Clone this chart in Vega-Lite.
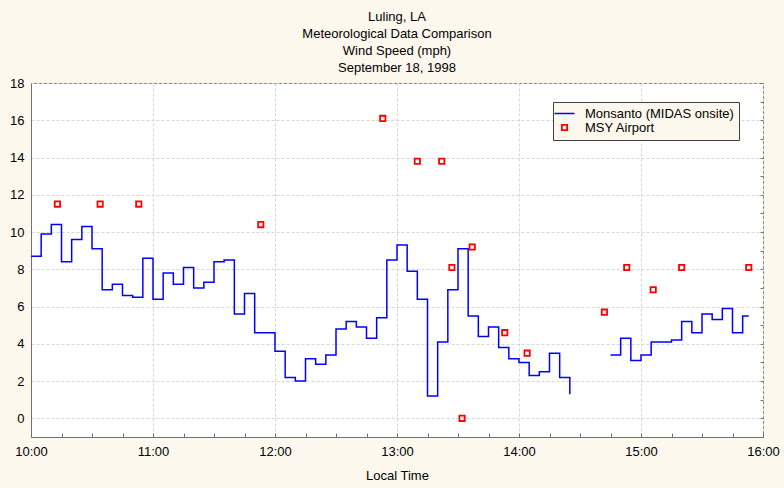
{
  "$schema": "https://vega.github.io/schema/vega-lite/v6.json",
  "autosize": {"type": "none"},
  "width": 732,
  "height": 354,
  "padding": {"left": 31, "top": 83, "right": 21, "bottom": 51},
  "background": "#FDF8EE",
  "config": {
    "font": "Liberation Sans",
    "view": {"stroke": "#707070", "strokeWidth": 1, "fill": "white"},
    "axis": {
      "labelFont": "Liberation Sans",
      "labelFontSize": 13,
      "labelColor": "#000000",
      "titleFont": "Liberation Sans",
      "titleFontSize": 13,
      "titleFontWeight": "normal",
      "titleColor": "#000000",
      "domainColor": "#707070",
      "tickColor": "#707070",
      "gridColor": "#D6D6D6",
      "gridDash": [3, 2],
      "gridWidth": 1
    }
  },
  "title": {
    "text": ["Luling, LA", "Meteorological Data Comparison", "Wind Speed (mph)", "September 18, 1998"],
    "font": "Liberation Sans",
    "fontSize": 13,
    "fontWeight": "normal",
    "color": "#000000",
    "lineHeight": 17,
    "anchor": "middle",
    "offset": 2
  },
  "datasets": {
    "midas": [
      {"time": "1998-09-18T10:00:00", "speed": 8.7, "seg": 1, "series": "Monsanto (MIDAS onsite)"},
      {"time": "1998-09-18T10:05:00", "speed": 9.9, "seg": 1, "series": "Monsanto (MIDAS onsite)"},
      {"time": "1998-09-18T10:10:00", "speed": 10.4, "seg": 1, "series": "Monsanto (MIDAS onsite)"},
      {"time": "1998-09-18T10:15:00", "speed": 8.4, "seg": 1, "series": "Monsanto (MIDAS onsite)"},
      {"time": "1998-09-18T10:20:00", "speed": 9.6, "seg": 1, "series": "Monsanto (MIDAS onsite)"},
      {"time": "1998-09-18T10:25:00", "speed": 10.3, "seg": 1, "series": "Monsanto (MIDAS onsite)"},
      {"time": "1998-09-18T10:30:00", "speed": 9.1, "seg": 1, "series": "Monsanto (MIDAS onsite)"},
      {"time": "1998-09-18T10:35:00", "speed": 6.9, "seg": 1, "series": "Monsanto (MIDAS onsite)"},
      {"time": "1998-09-18T10:40:00", "speed": 7.2, "seg": 1, "series": "Monsanto (MIDAS onsite)"},
      {"time": "1998-09-18T10:45:00", "speed": 6.6, "seg": 1, "series": "Monsanto (MIDAS onsite)"},
      {"time": "1998-09-18T10:50:00", "speed": 6.5, "seg": 1, "series": "Monsanto (MIDAS onsite)"},
      {"time": "1998-09-18T10:55:00", "speed": 8.6, "seg": 1, "series": "Monsanto (MIDAS onsite)"},
      {"time": "1998-09-18T11:00:00", "speed": 6.4, "seg": 1, "series": "Monsanto (MIDAS onsite)"},
      {"time": "1998-09-18T11:05:00", "speed": 7.8, "seg": 1, "series": "Monsanto (MIDAS onsite)"},
      {"time": "1998-09-18T11:10:00", "speed": 7.2, "seg": 1, "series": "Monsanto (MIDAS onsite)"},
      {"time": "1998-09-18T11:15:00", "speed": 8.1, "seg": 1, "series": "Monsanto (MIDAS onsite)"},
      {"time": "1998-09-18T11:20:00", "speed": 7.0, "seg": 1, "series": "Monsanto (MIDAS onsite)"},
      {"time": "1998-09-18T11:25:00", "speed": 7.3, "seg": 1, "series": "Monsanto (MIDAS onsite)"},
      {"time": "1998-09-18T11:30:00", "speed": 8.4, "seg": 1, "series": "Monsanto (MIDAS onsite)"},
      {"time": "1998-09-18T11:35:00", "speed": 8.5, "seg": 1, "series": "Monsanto (MIDAS onsite)"},
      {"time": "1998-09-18T11:40:00", "speed": 5.6, "seg": 1, "series": "Monsanto (MIDAS onsite)"},
      {"time": "1998-09-18T11:45:00", "speed": 6.7, "seg": 1, "series": "Monsanto (MIDAS onsite)"},
      {"time": "1998-09-18T11:50:00", "speed": 4.6, "seg": 1, "series": "Monsanto (MIDAS onsite)"},
      {"time": "1998-09-18T11:55:00", "speed": 4.6, "seg": 1, "series": "Monsanto (MIDAS onsite)"},
      {"time": "1998-09-18T12:00:00", "speed": 3.6, "seg": 1, "series": "Monsanto (MIDAS onsite)"},
      {"time": "1998-09-18T12:05:00", "speed": 2.2, "seg": 1, "series": "Monsanto (MIDAS onsite)"},
      {"time": "1998-09-18T12:10:00", "speed": 2.0, "seg": 1, "series": "Monsanto (MIDAS onsite)"},
      {"time": "1998-09-18T12:15:00", "speed": 3.2, "seg": 1, "series": "Monsanto (MIDAS onsite)"},
      {"time": "1998-09-18T12:20:00", "speed": 2.9, "seg": 1, "series": "Monsanto (MIDAS onsite)"},
      {"time": "1998-09-18T12:25:00", "speed": 3.4, "seg": 1, "series": "Monsanto (MIDAS onsite)"},
      {"time": "1998-09-18T12:30:00", "speed": 4.8, "seg": 1, "series": "Monsanto (MIDAS onsite)"},
      {"time": "1998-09-18T12:35:00", "speed": 5.2, "seg": 1, "series": "Monsanto (MIDAS onsite)"},
      {"time": "1998-09-18T12:40:00", "speed": 4.9, "seg": 1, "series": "Monsanto (MIDAS onsite)"},
      {"time": "1998-09-18T12:45:00", "speed": 4.3, "seg": 1, "series": "Monsanto (MIDAS onsite)"},
      {"time": "1998-09-18T12:50:00", "speed": 5.4, "seg": 1, "series": "Monsanto (MIDAS onsite)"},
      {"time": "1998-09-18T12:55:00", "speed": 8.5, "seg": 1, "series": "Monsanto (MIDAS onsite)"},
      {"time": "1998-09-18T13:00:00", "speed": 9.3, "seg": 1, "series": "Monsanto (MIDAS onsite)"},
      {"time": "1998-09-18T13:05:00", "speed": 7.9, "seg": 1, "series": "Monsanto (MIDAS onsite)"},
      {"time": "1998-09-18T13:10:00", "speed": 6.4, "seg": 1, "series": "Monsanto (MIDAS onsite)"},
      {"time": "1998-09-18T13:15:00", "speed": 1.2, "seg": 1, "series": "Monsanto (MIDAS onsite)"},
      {"time": "1998-09-18T13:20:00", "speed": 4.1, "seg": 1, "series": "Monsanto (MIDAS onsite)"},
      {"time": "1998-09-18T13:25:00", "speed": 6.9, "seg": 1, "series": "Monsanto (MIDAS onsite)"},
      {"time": "1998-09-18T13:30:00", "speed": 9.1, "seg": 1, "series": "Monsanto (MIDAS onsite)"},
      {"time": "1998-09-18T13:35:00", "speed": 5.5, "seg": 1, "series": "Monsanto (MIDAS onsite)"},
      {"time": "1998-09-18T13:40:00", "speed": 4.4, "seg": 1, "series": "Monsanto (MIDAS onsite)"},
      {"time": "1998-09-18T13:45:00", "speed": 4.9, "seg": 1, "series": "Monsanto (MIDAS onsite)"},
      {"time": "1998-09-18T13:50:00", "speed": 3.8, "seg": 1, "series": "Monsanto (MIDAS onsite)"},
      {"time": "1998-09-18T13:55:00", "speed": 3.2, "seg": 1, "series": "Monsanto (MIDAS onsite)"},
      {"time": "1998-09-18T14:00:00", "speed": 3.0, "seg": 1, "series": "Monsanto (MIDAS onsite)"},
      {"time": "1998-09-18T14:05:00", "speed": 2.3, "seg": 1, "series": "Monsanto (MIDAS onsite)"},
      {"time": "1998-09-18T14:10:00", "speed": 2.5, "seg": 1, "series": "Monsanto (MIDAS onsite)"},
      {"time": "1998-09-18T14:15:00", "speed": 3.5, "seg": 1, "series": "Monsanto (MIDAS onsite)"},
      {"time": "1998-09-18T14:20:00", "speed": 2.2, "seg": 1, "series": "Monsanto (MIDAS onsite)"},
      {"time": "1998-09-18T14:25:00", "speed": 1.3, "seg": 1, "series": "Monsanto (MIDAS onsite)"},
      {"time": "1998-09-18T14:45:00", "speed": 3.4, "seg": 2, "series": "Monsanto (MIDAS onsite)"},
      {"time": "1998-09-18T14:50:00", "speed": 4.3, "seg": 2, "series": "Monsanto (MIDAS onsite)"},
      {"time": "1998-09-18T14:55:00", "speed": 3.1, "seg": 2, "series": "Monsanto (MIDAS onsite)"},
      {"time": "1998-09-18T15:00:00", "speed": 3.4, "seg": 2, "series": "Monsanto (MIDAS onsite)"},
      {"time": "1998-09-18T15:05:00", "speed": 4.1, "seg": 2, "series": "Monsanto (MIDAS onsite)"},
      {"time": "1998-09-18T15:10:00", "speed": 4.1, "seg": 2, "series": "Monsanto (MIDAS onsite)"},
      {"time": "1998-09-18T15:15:00", "speed": 4.2, "seg": 2, "series": "Monsanto (MIDAS onsite)"},
      {"time": "1998-09-18T15:20:00", "speed": 5.2, "seg": 2, "series": "Monsanto (MIDAS onsite)"},
      {"time": "1998-09-18T15:25:00", "speed": 4.6, "seg": 2, "series": "Monsanto (MIDAS onsite)"},
      {"time": "1998-09-18T15:30:00", "speed": 5.6, "seg": 2, "series": "Monsanto (MIDAS onsite)"},
      {"time": "1998-09-18T15:35:00", "speed": 5.3, "seg": 2, "series": "Monsanto (MIDAS onsite)"},
      {"time": "1998-09-18T15:40:00", "speed": 5.9, "seg": 2, "series": "Monsanto (MIDAS onsite)"},
      {"time": "1998-09-18T15:45:00", "speed": 4.6, "seg": 2, "series": "Monsanto (MIDAS onsite)"},
      {"time": "1998-09-18T15:50:00", "speed": 5.5, "seg": 2, "series": "Monsanto (MIDAS onsite)"},
      {"time": "1998-09-18T15:53:00", "speed": 5.5, "seg": 2, "series": "Monsanto (MIDAS onsite)"}
    ],
    "msy": [
      {"time": "1998-09-18T10:13:00", "speed": 11.5, "series": "MSY Airport"},
      {"time": "1998-09-18T10:34:00", "speed": 11.5, "series": "MSY Airport"},
      {"time": "1998-09-18T10:53:00", "speed": 11.5, "series": "MSY Airport"},
      {"time": "1998-09-18T11:53:00", "speed": 10.4, "series": "MSY Airport"},
      {"time": "1998-09-18T12:53:00", "speed": 16.1, "series": "MSY Airport"},
      {"time": "1998-09-18T13:10:00", "speed": 13.8, "series": "MSY Airport"},
      {"time": "1998-09-18T13:22:00", "speed": 13.8, "series": "MSY Airport"},
      {"time": "1998-09-18T13:27:00", "speed": 8.1, "series": "MSY Airport"},
      {"time": "1998-09-18T13:32:00", "speed": 0.0, "series": "MSY Airport"},
      {"time": "1998-09-18T13:37:00", "speed": 9.2, "series": "MSY Airport"},
      {"time": "1998-09-18T13:53:00", "speed": 4.6, "series": "MSY Airport"},
      {"time": "1998-09-18T14:04:00", "speed": 3.5, "series": "MSY Airport"},
      {"time": "1998-09-18T14:42:00", "speed": 5.7, "series": "MSY Airport"},
      {"time": "1998-09-18T14:53:00", "speed": 8.1, "series": "MSY Airport"},
      {"time": "1998-09-18T15:06:00", "speed": 6.9, "series": "MSY Airport"},
      {"time": "1998-09-18T15:20:00", "speed": 8.1, "series": "MSY Airport"},
      {"time": "1998-09-18T15:53:00", "speed": 8.1, "series": "MSY Airport"}
    ]
  },
  "encoding": {
    "color": {
      "field": "series",
      "type": "nominal",
      "title": null,
      "scale": {"domain": ["Monsanto (MIDAS onsite)", "MSY Airport"], "range": ["#0000FF", "#FF0000"]},
      "legend": {
        "orient": "none",
        "legendX": 522,
        "legendY": 19,
        "fillColor": "#FDF8EE",
        "strokeColor": "#404040",
        "padding": 5,
        "labelFont": "Liberation Sans",
        "labelFontSize": 13,
        "labelColor": "#000000",
        "labelOffset": 14,
        "symbolSize": 400,
        "symbolStrokeWidth": 1.5,
        "rowPadding": -6,
        "encode": {
          "symbols": {
            "update": {
              "shape": {"signal": "datum.value === 'MSY Airport' ? 'square' : 'stroke'"},
              "size": {"signal": "datum.value === 'MSY Airport' ? 28 : 400"},
              "fill": {"value": "transparent"},
              "strokeWidth": {"signal": "datum.value === 'MSY Airport' ? 1.8 : 1.5"}
            }
          }
        }
      }
    }
  },
  "layer": [
    {
      "data": {"name": "midas"},
      "mark": {"type": "line", "interpolate": "step-after", "strokeWidth": 1.5},
      "encoding": {
        "x": {
          "field": "time",
          "type": "temporal",
          "title": "Local Time",
          "scale": {
            "domain": [
              {"year": 1998, "month": 9, "date": 18, "hours": 10, "minutes": 0},
              {"year": 1998, "month": 9, "date": 18, "hours": 16, "minutes": 0}
            ],
            "nice": false
          },
          "axis": {
            "orient": "bottom",
            "format": "%H:%M",
            "values": [
              {"year": 1998, "month": 9, "date": 18, "hours": 10},
              {"year": 1998, "month": 9, "date": 18, "hours": 11},
              {"year": 1998, "month": 9, "date": 18, "hours": 12},
              {"year": 1998, "month": 9, "date": 18, "hours": 13},
              {"year": 1998, "month": 9, "date": 18, "hours": 14},
              {"year": 1998, "month": 9, "date": 18, "hours": 15},
              {"year": 1998, "month": 9, "date": 18, "hours": 16}
            ],
            "labelOverlap": false,
            "labelFlush": false,
            "ticks": false,
            "labelPadding": 8,
            "titlePadding": 11
          }
        },
        "y": {
          "field": "speed",
          "type": "quantitative",
          "title": null,
          "scale": {"domain": [-1, 18], "nice": false, "zero": false},
          "axis": {
            "orient": "left",
            "values": [0, 2, 4, 6, 8, 10, 12, 14, 16, 18],
            "labelOverlap": false,
            "labelFlush": false,
            "ticks": false,
            "labelPadding": 7
          }
        },
        "detail": {"field": "seg", "type": "nominal"}
      }
    },
    {
      "data": {"name": "msy"},
      "mark": {"type": "point", "shape": "square", "filled": false, "size": 28, "strokeWidth": 1.8, "opacity": 1},
      "encoding": {
        "x": {
          "field": "time",
          "type": "temporal",
          "title": null,
          "axis": {
            "orient": "bottom",
            "values": [
              {"year": 1998, "month": 9, "date": 18, "hours": 10, "minutes": 0},
              {"year": 1998, "month": 9, "date": 18, "hours": 10, "minutes": 15},
              {"year": 1998, "month": 9, "date": 18, "hours": 10, "minutes": 30},
              {"year": 1998, "month": 9, "date": 18, "hours": 10, "minutes": 45},
              {"year": 1998, "month": 9, "date": 18, "hours": 11, "minutes": 0},
              {"year": 1998, "month": 9, "date": 18, "hours": 11, "minutes": 15},
              {"year": 1998, "month": 9, "date": 18, "hours": 11, "minutes": 30},
              {"year": 1998, "month": 9, "date": 18, "hours": 11, "minutes": 45},
              {"year": 1998, "month": 9, "date": 18, "hours": 12, "minutes": 0},
              {"year": 1998, "month": 9, "date": 18, "hours": 12, "minutes": 15},
              {"year": 1998, "month": 9, "date": 18, "hours": 12, "minutes": 30},
              {"year": 1998, "month": 9, "date": 18, "hours": 12, "minutes": 45},
              {"year": 1998, "month": 9, "date": 18, "hours": 13, "minutes": 0},
              {"year": 1998, "month": 9, "date": 18, "hours": 13, "minutes": 15},
              {"year": 1998, "month": 9, "date": 18, "hours": 13, "minutes": 30},
              {"year": 1998, "month": 9, "date": 18, "hours": 13, "minutes": 45},
              {"year": 1998, "month": 9, "date": 18, "hours": 14, "minutes": 0},
              {"year": 1998, "month": 9, "date": 18, "hours": 14, "minutes": 15},
              {"year": 1998, "month": 9, "date": 18, "hours": 14, "minutes": 30},
              {"year": 1998, "month": 9, "date": 18, "hours": 14, "minutes": 45},
              {"year": 1998, "month": 9, "date": 18, "hours": 15, "minutes": 0},
              {"year": 1998, "month": 9, "date": 18, "hours": 15, "minutes": 15},
              {"year": 1998, "month": 9, "date": 18, "hours": 15, "minutes": 30},
              {"year": 1998, "month": 9, "date": 18, "hours": 15, "minutes": 45},
              {"year": 1998, "month": 9, "date": 18, "hours": 16, "minutes": 0}
            ],
            "labels": false,
            "grid": false,
            "domain": false,
            "tickSize": 4,
            "offset": -4
          }
        },
        "y": {
          "field": "speed",
          "type": "quantitative",
          "title": null,
          "axis": {
            "orient": "right",
            "values": [0, 1, 2, 3, 4, 5, 6, 7, 8, 9, 10, 11, 12, 13, 14, 15, 16, 17, 18],
            "labels": false,
            "domain": false,
            "grid": false,
            "tickSize": 3,
            "offset": -3
          }
        }
      }
    }
  ],
  "resolve": {"axis": {"x": "independent", "y": "independent"}}
}
